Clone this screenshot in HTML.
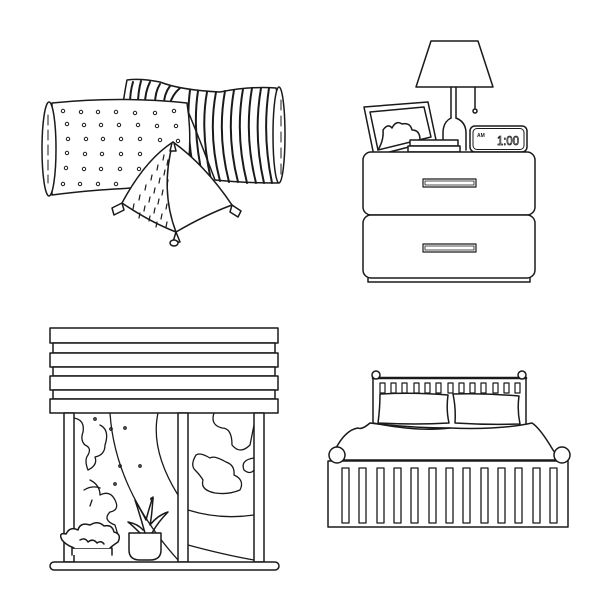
<!DOCTYPE html>
<html><head><meta charset="utf-8"><style>html,body{margin:0;padding:0;background:#fff}svg{display:block}</style></head><body>
<svg width="612" height="612" viewBox="0 0 612 612" xmlns="http://www.w3.org/2000/svg" fill="none" stroke="#1a1a1a" stroke-width="1.5" stroke-linejoin="round" stroke-linecap="round">
<!-- PILLOWS -->
<g>
<path d="M127 80 Q125 90 123 104 L185 104 Q200 140 215 180 Q245 183 278 183 Q288 135 276 88 Q250 86 220 92 Q180 90 160 82 Q140 78 127 80 Z" fill="#fff"/>
<ellipse cx="279" cy="135" rx="6" ry="48" fill="#fff"/>
<path d="M281 100 v10 M281 116 v10 M281 132 v10 M281 148 v10 M281 164 v10" stroke-width="1"/>
<g stroke-width="2">
<path d="M133 82 Q130 92 130 104"/><path d="M141 81 Q138 92 138 104"/><path d="M150 82 Q145 92 145 104"/><path d="M160 84 Q155 92 155 104"/><path d="M170 86 Q164 94 164 104"/><path d="M180 88 Q172 95 170 104"/>
<path d="M190 90 Q185 130 195 178"/><path d="M198 91 Q192 130 203 179"/><path d="M207 92 Q200 130 211 180"/><path d="M216 92 Q208 135 220 181"/><path d="M225 91 Q217 135 229 182"/><path d="M234 90 Q226 135 238 182"/><path d="M243 89 Q235 135 247 183"/><path d="M252 88 Q244 135 256 183"/><path d="M261 88 Q253 135 264 183"/><path d="M269 88 Q262 135 272 183"/>
</g>
<path d="M52 103 Q120 96 187 103 Q193 140 186 185 Q130 188 100 190 Q75 192 52 195 Z" fill="#fff"/>
<ellipse cx="49" cy="149" rx="7" ry="47" fill="#fff"/>
<path d="M48 115 v10 M48 130 v10 M48 145 v10 M48 160 v10 M48 175 v8" stroke-width="1"/>
<g stroke-width="1">
<circle cx="63" cy="111" r="1.7"/><circle cx="81" cy="112" r="1.7"/><circle cx="98" cy="112" r="1.7"/><circle cx="116" cy="112" r="1.7"/><circle cx="135" cy="113" r="1.7"/><circle cx="155" cy="113" r="1.7"/><circle cx="174" cy="111" r="1.7"/>
<circle cx="67" cy="124" r="1.7"/><circle cx="84" cy="125" r="1.7"/><circle cx="101" cy="125" r="1.7"/><circle cx="119" cy="125" r="1.7"/><circle cx="138" cy="125" r="1.7"/><circle cx="157" cy="126" r="1.7"/><circle cx="176" cy="126" r="1.7"/>
<circle cx="68" cy="139" r="1.7"/><circle cx="86" cy="139" r="1.7"/><circle cx="103" cy="139" r="1.7"/><circle cx="121" cy="139" r="1.7"/><circle cx="140" cy="139" r="1.7"/><circle cx="160" cy="140" r="1.7"/><circle cx="178" cy="141" r="1.7"/>
<circle cx="67" cy="153" r="1.7"/><circle cx="85" cy="154" r="1.7"/><circle cx="102" cy="154" r="1.7"/><circle cx="121" cy="154" r="1.7"/><circle cx="140" cy="154" r="1.7"/>
<circle cx="66" cy="168" r="1.7"/><circle cx="84" cy="169" r="1.7"/><circle cx="101" cy="169" r="1.7"/><circle cx="120" cy="169" r="1.7"/><circle cx="139" cy="169" r="1.7"/>
<circle cx="63" cy="184" r="1.7"/><circle cx="80" cy="184" r="1.7"/><circle cx="98" cy="184" r="1.7"/><circle cx="116" cy="184" r="1.7"/>
</g>
<path d="M173 142 Q145 160 122 203 Q150 222 176 232 Q205 215 232 205 Q205 165 173 142 Z" fill="#fff"/>
<path d="M173 142 Q160 190 176 232"/>
<g stroke-width="1.2">
<path d="M164 155 l-1 5 M168 160 l-1 5 M158 165 l-1 5 M165 170 l-1 5 M152 175 l-1 5 M160 178 l-1 5 M168 180 l-1 5 M146 185 l-1 5 M155 188 l-1 5 M163 190 l-1 5 M140 195 l-1 5 M150 197 l-1 5 M159 199 l-1 5 M134 204 l-1 5 M145 206 l-1 5 M155 208 l-1 5 M167 204 l-1 5 M140 213 l-1 5 M150 216 l-1 5 M162 214 l-1 5 M157 222 l-1 5 M167 222 l-1 5"/>
</g>
<path d="M172 143 l-2 8 h6 l-2 -8" fill="#fff"/>
<path d="M122 203 l-10 5 l2 7 l10 -5 Z" fill="#fff"/>
<path d="M232 205 l9 6 l-3 6 l-8 -5 Z" fill="#fff"/>
<path d="M176 232 l-3 10 h7 Z" fill="#fff"/><ellipse cx="174" cy="243" rx="4" ry="3" fill="#fff"/>
</g>

<!-- NIGHTSTAND -->
<g>
<path d="M416 87 L431 41 L478 41 L493 87 Z" fill="#fff"/>
<path d="M451 87 V118 M456 87 V118"/>
<path d="M451 118 Q443 122 443 133 V150 M456 118 Q466 122 466 133 V150"/>
<path d="M475 87 V108"/><circle cx="475" cy="111" r="2"/>
<rect x="470" y="126" width="57" height="26" rx="5" fill="#fff"/>
<rect x="473" y="128.5" width="51" height="21" rx="4" stroke-width="1"/>
<text x="477" y="137" font-family="Liberation Sans, sans-serif" font-size="5" font-weight="bold" fill="#1a1a1a" stroke="none">AM</text>
<text x="497" y="145" font-family="Liberation Sans, sans-serif" font-size="13" textLength="22" lengthAdjust="spacingAndGlyphs" fill="#fff" stroke="#1a1a1a" stroke-width="0.8">1:00</text>
<path d="M364 107 L428 102 L436 140 L374 156 Z" fill="#fff"/>
<path d="M370 112 L424 107 L431 137 L378 150 Z"/>
<path d="M378 150 Q384 140 383 130 Q388 123 392 128 Q396 120 402 124 Q410 122 412 130 Q420 130 420 140"/>
<path d="M410 140 H458 V146 H410 Z" fill="#fff"/>
<path d="M408 146 H460 V152 H408 Z" fill="#fff"/>
<rect x="363" y="152" width="172" height="63" rx="8" fill="#fff"/>
<rect x="363" y="215" width="172" height="63" rx="8" fill="#fff"/>
<path d="M368 278 v4 h162 v-4"/>
<rect x="423" y="179" width="53" height="8" stroke-width="1.2"/><rect x="425" y="181" width="49" height="4" stroke-width="0.8"/>
<rect x="423" y="244" width="53" height="8" stroke-width="1.2"/><rect x="425" y="246" width="49" height="4" stroke-width="0.8"/>
</g>

<!-- WINDOW -->
<g>
<clipPath id="win"><rect x="74" y="413" width="180" height="150"/></clipPath>
<g clip-path="url(#win)" stroke-width="1.3">
<path d="M110 413 Q115 490 178 560"/>
<path d="M158 413 Q150 450 178 495"/>
<path d="M188 510 Q220 520 254 515"/>
<path d="M188 545 Q225 555 254 560"/>
<path d="M214 413 Q210 425 222 428 Q232 428 232 445 Q240 455 250 445 L254 425"/>
<path d="M254 458 Q240 460 244 470 Q250 475 254 470"/>
<path d="M196 455 Q190 465 195 470 Q200 475 203 480 Q200 490 215 493 Q228 495 240 490 Q245 480 234 475 Q235 465 226 462 Q214 455 210 458 Q200 452 196 455 Z"/>
<path d="M74 418 Q85 420 83 432 Q80 440 85 445 Q92 448 88 455 Q84 460 88 470 Q98 465 95 457 Q105 455 105 445 Q110 430 100 425"/>
<path d="M90 480 Q100 485 100 495 Q110 490 115 500 Q120 510 110 512 Q102 520 115 525 L118 535"/>
<path d="M84 490 Q92 485 100 488 M92 500 l-2 6"/>
<circle cx="95" cy="419" r="1.2"/><circle cx="111" cy="429" r="1.2"/><circle cx="125" cy="428" r="1.2"/><circle cx="120" cy="466" r="1.2"/><circle cx="140" cy="466" r="1.2"/><circle cx="115" cy="484" r="1.2"/><circle cx="152" cy="499" r="1.2"/>
</g>
<rect x="50" y="328" width="228" height="15" fill="#fff"/>
<rect x="53" y="343" width="222" height="10" fill="#fff"/>
<rect x="50" y="353" width="228" height="14" fill="#fff"/>
<rect x="53" y="367" width="222" height="9" fill="#fff"/>
<rect x="50" y="376" width="228" height="14" fill="#fff"/>
<rect x="53" y="390" width="222" height="9" fill="#fff"/>
<rect x="50" y="399" width="228" height="14" fill="#fff"/>
<rect x="64" y="413" width="10" height="149" fill="#fff"/>
<rect x="178" y="413" width="10" height="149" fill="#fff"/>
<rect x="254" y="413" width="10" height="149" fill="#fff"/>
<rect x="50" y="562" width="229" height="8" rx="4" fill="#fff"/>
<path d="M129 533 H161 V550 Q161 560 150 560 H140 Q129 560 129 550 Z" fill="#fff"/>
<path d="M145 533 Q140 515 135 500 Q142 512 146 520 Q150 505 153 497 Q152 515 150 525 Q158 515 168 512 Q158 522 152 533"/>
<path d="M140 533 Q132 525 128 522 Q138 524 143 530"/>
<path d="M72 555 V548 L112 548 V555" fill="#fff"/>
<path d="M74 548 Q66 545 62 540 Q58 532 66 534 Q70 526 78 530 Q80 522 90 525 Q98 520 104 526 Q112 524 114 532 Q122 534 118 542 Q112 546 110 548" fill="#fff"/>
<path d="M80 540 q5 -3 8 2 q5 -4 9 1 q4 -3 7 1"/>
</g>

<!-- BED -->
<g>
<path d="M373 426 V378 H526 V426" fill="#fff"/>
<path d="M373 378 H526" stroke-width="2.5"/>
<circle cx="376" cy="375" r="4" fill="#fff"/><circle cx="522" cy="375" r="4" fill="#fff"/>
<g stroke-width="1.2">
<rect x="380" y="383" width="5" height="10"/><rect x="391" y="383" width="5" height="10"/><rect x="402" y="383" width="5" height="10"/><rect x="414" y="383" width="5" height="10"/><rect x="425" y="383" width="5" height="10"/><rect x="436" y="383" width="5" height="10"/><rect x="448" y="383" width="5" height="10"/><rect x="459" y="383" width="5" height="10"/><rect x="470" y="383" width="5" height="10"/><rect x="481" y="383" width="5" height="10"/><rect x="493" y="383" width="5" height="10"/><rect x="504" y="383" width="5" height="10"/><rect x="515" y="383" width="5" height="10"/>
</g>
<path d="M370 423 Q362 430 358 428 Q345 430 335 450 L338 460 H560 L553 450 Q540 428 532 423 Q500 430 450 428 Q410 428 370 423 Z" fill="#fff"/>
<path d="M380 394 Q415 392 448 395 Q446 410 449 423 Q415 425 378 423 Q380 408 380 394 Z" fill="#fff"/>
<path d="M453 394 Q485 393 519 396 Q517 410 520 424 Q487 425 455 423 Q456 408 453 394 Z" fill="#fff"/>
<path d="M373 423 Q420 432 450 428"/>
<rect x="328" y="461" width="240" height="66" fill="#fff"/>
<circle cx="337" cy="455" r="8" fill="#fff"/><circle cx="562" cy="455" r="8" fill="#fff"/>
<g stroke-width="1.3">
<rect x="342" y="468" width="7" height="55"/><rect x="359" y="468" width="7" height="55"/><rect x="377" y="468" width="7" height="55"/><rect x="394" y="468" width="7" height="55"/><rect x="411" y="468" width="7" height="55"/><rect x="429" y="468" width="7" height="55"/><rect x="446" y="468" width="7" height="55"/><rect x="463" y="468" width="7" height="55"/><rect x="481" y="468" width="7" height="55"/><rect x="498" y="468" width="7" height="55"/><rect x="515" y="468" width="7" height="55"/><rect x="533" y="468" width="7" height="55"/><rect x="550" y="468" width="7" height="55"/>
</g>
</g>
</svg>
</body></html>
